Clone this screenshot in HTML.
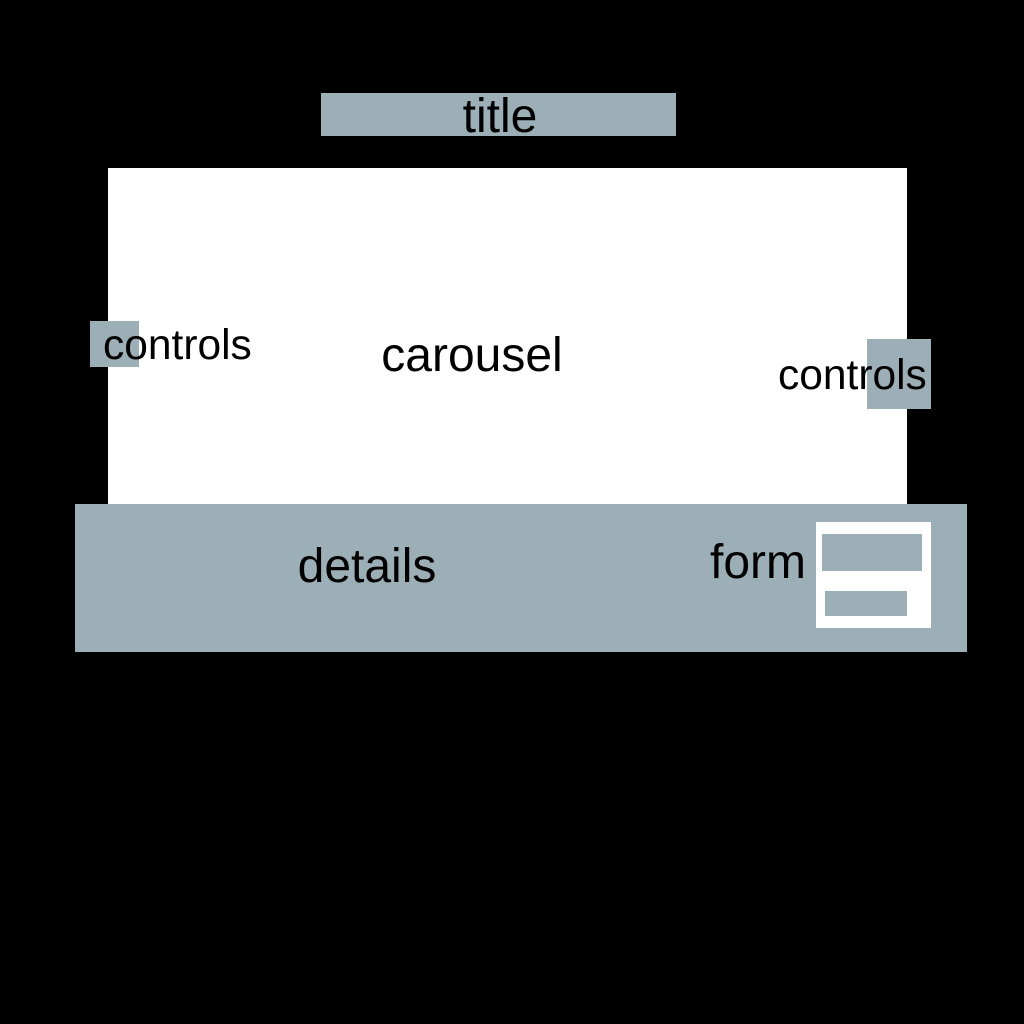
<!DOCTYPE html>
<html><head><meta charset="utf-8"><style>html,body{margin:0;padding:0;background:#000;}svg{display:block}</style></head>
<body>
<svg width="1024" height="1024" xmlns="http://www.w3.org/2000/svg" font-family="Liberation Sans, Arial, sans-serif">
<rect width="1024" height="1024" fill="#000"/>
<rect x="321" y="93" width="355" height="43" fill="#9caeb6"/>
<text x="500" y="132" font-size="48" text-anchor="middle" fill="#000">title</text>
<rect x="108" y="168" width="799" height="336" fill="#fff"/>
<rect x="90" y="321" width="49" height="46" fill="#9caeb6"/>
<text x="103" y="359" font-size="42.5" fill="#000">controls</text>
<text x="472" y="371" font-size="48" text-anchor="middle" fill="#000">carousel</text>
<rect x="867" y="339" width="64" height="70" fill="#9caeb6"/>
<text x="778" y="389" font-size="42.5" fill="#000">controls</text>
<rect x="75" y="504" width="892" height="148" fill="#9caeb6"/>
<text x="367" y="582" font-size="48" text-anchor="middle" fill="#000">details</text>
<text x="710" y="578" font-size="48" fill="#000">form</text>
<rect x="816" y="522" width="115" height="106" fill="#fff"/>
<rect x="822" y="534" width="100" height="37" fill="#9caeb6"/>
<rect x="825" y="591" width="82" height="25" fill="#9caeb6"/>
</svg>
</body></html>
